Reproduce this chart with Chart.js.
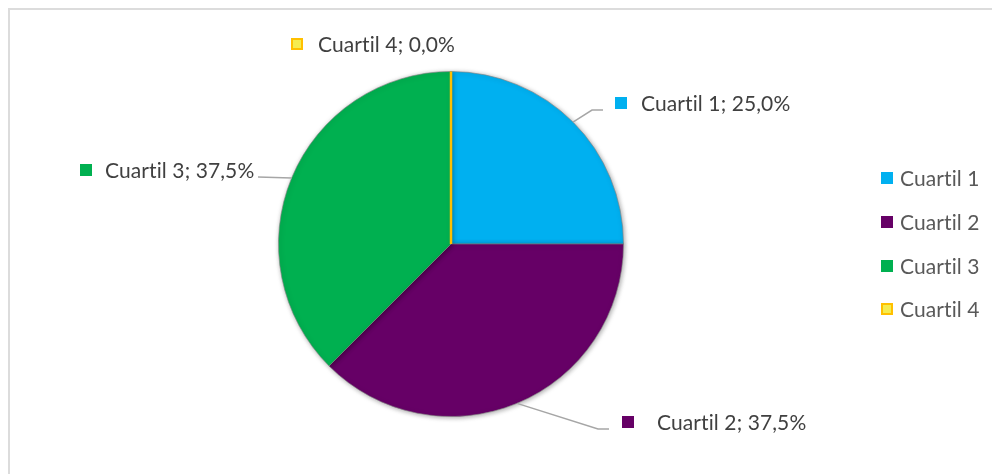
<!DOCTYPE html>
<html>
<head>
<meta charset="utf-8">
<script src="https://cdn.jsdelivr.net/npm/chart.js@4.4.0/dist/chart.umd.min.js"></script>
<style>
    html, body { margin: 0; padding: 0; background: #fff; overflow: hidden; }
    #marco { position: absolute; left: 8px; top: 8px; width: 1100px; height: 600px; border: 2px solid #dcdcdc; box-sizing: border-box; }
    #caja { position: absolute; left: 0; top: 0; width: 992px; height: 474px; }
</style>
</head>
<body>
<div id="marco"></div>
<div id="caja"><canvas id="grafico-cuartiles"></canvas></div>
<script>
// ========================================
// Datos del gráfico
// ========================================
const categorias = ['Cuartil 1', 'Cuartil 2', 'Cuartil 3', 'Cuartil 4'];
const porcentajes = [25.0, 37.5, 37.5, 0.0];

// Estilos
const colores = ['#00B0F0', '#660066', '#00B050', '#F5EC4F'];
const bordesMarcador = ['#00B0F0', '#660066', '#00B050', '#FFC000'];
const FUENTE = '21px Lato, "Open Sans", sans-serif';

// Posición de las etiquetas respecto al centro del pastel (px)
const posEtiquetas = [
    { codo: [141, -134], fin: [152, -134], marca: [170, -141], texto: 190, linea: true },
    { codo: [147, 185], fin: [158, 185], marca: [177, 178], texto: 206, linea: true },
    { codo: [-193, -67], fin: [-193, -67], marca: [-365, -74], texto: -346, linea: true },
    { codo: [0, 0], fin: [0, 0], marca: [-154, -200], texto: -133, linea: false }
];

// Posición de la leyenda
const leyendaX = 887;
const leyendaY = [178, 222, 266, 309];

function formatoPct(v) {
    return v.toFixed(1).replace('.', ',') + '%';
}

function marcador(ctx, x, y, i, lado) {
    ctx.fillStyle = colores[i];
    ctx.fillRect(x - lado / 2, y - lado / 2, lado, lado);
    if (i === 3) {
        ctx.strokeStyle = bordesMarcador[i];
        ctx.lineWidth = 2;
        ctx.strokeRect(x - lado / 2 + 1, y - lado / 2 + 1, lado - 2, lado - 2);
    }
}

const sombraPastel = {
    id: 'sombraPastel',
    beforeDatasetsDraw(chart) {
        const ctx = chart.ctx;
        ctx.save();
        ctx.shadowColor = 'rgba(0,0,0,0.35)';
        ctx.shadowBlur = 5;
        ctx.shadowOffsetX = 1;
        ctx.shadowOffsetY = 1;
    },
    afterDatasetsDraw(chart) {
        chart.ctx.restore();
    }
};

const etiquetasPastel = {
    id: 'etiquetasPastel',
    afterDraw(chart) {
        const ctx = chart.ctx;
        const arcos = chart.getDatasetMeta(0).data;
        const cx = arcos[0].x, cy = arcos[0].y;
        const r = arcos[0].outerRadius;

        // Cuartil 4 (0%) se ve como una línea radial
        const a4 = arcos[3].startAngle;
        ctx.save();
        ctx.strokeStyle = '#FFC000';
        ctx.lineWidth = 2.5;
        ctx.beginPath();
        ctx.moveTo(cx, cy);
        ctx.lineTo(cx + r * Math.cos(a4), cy + r * Math.sin(a4));
        ctx.stroke();

        ctx.font = FUENTE;
        ctx.letterSpacing = '0.1px'; // sin ligadura "ti"
        ctx.textBaseline = 'middle';

        arcos.forEach((arco, i) => {
            const p = posEtiquetas[i];
            if (p.linea) {
                const m = (arco.startAngle + arco.endAngle) / 2;
                ctx.strokeStyle = '#A6A6A6';
                ctx.lineWidth = 1.5;
                ctx.beginPath();
                ctx.moveTo(cx + r * Math.cos(m), cy + r * Math.sin(m));
                ctx.lineTo(cx + p.codo[0], cy + p.codo[1]);
                ctx.lineTo(cx + p.fin[0], cy + p.fin[1]);
                ctx.stroke();
            }
            marcador(ctx, cx + p.marca[0], cy + p.marca[1], i, 12);
            ctx.fillStyle = '#404040';
            ctx.fillText(categorias[i] + '; ' + formatoPct(porcentajes[i]), cx + p.texto, cy + p.marca[1] + 1);
        });

        // Leyenda
        categorias.forEach((cat, i) => {
            marcador(ctx, leyendaX, leyendaY[i], i, 12);
            ctx.fillStyle = '#595959';
            ctx.fillText(cat, leyendaX + 13, leyendaY[i] + 1);
        });
        ctx.restore();
    }
};

const ctx = document.getElementById('grafico-cuartiles').getContext('2d');
new Chart(ctx, {
    type: 'pie',
    data: {
        labels: categorias,
        datasets: [{
            data: porcentajes,
            backgroundColor: colores,
            borderColor: 'rgba(130,130,130,0.6)',
            borderWidth: 1
        }]
    },
    options: {
        responsive: true,
        maintainAspectRatio: false,
        animation: false,
        layout: { padding: { left: 278, right: 368, top: 71, bottom: 57 } },
        plugins: {
            legend: { display: false },
            tooltip: { enabled: false }
        }
    },
    plugins: [sombraPastel, etiquetasPastel]
});
</script>
</body>
</html>
